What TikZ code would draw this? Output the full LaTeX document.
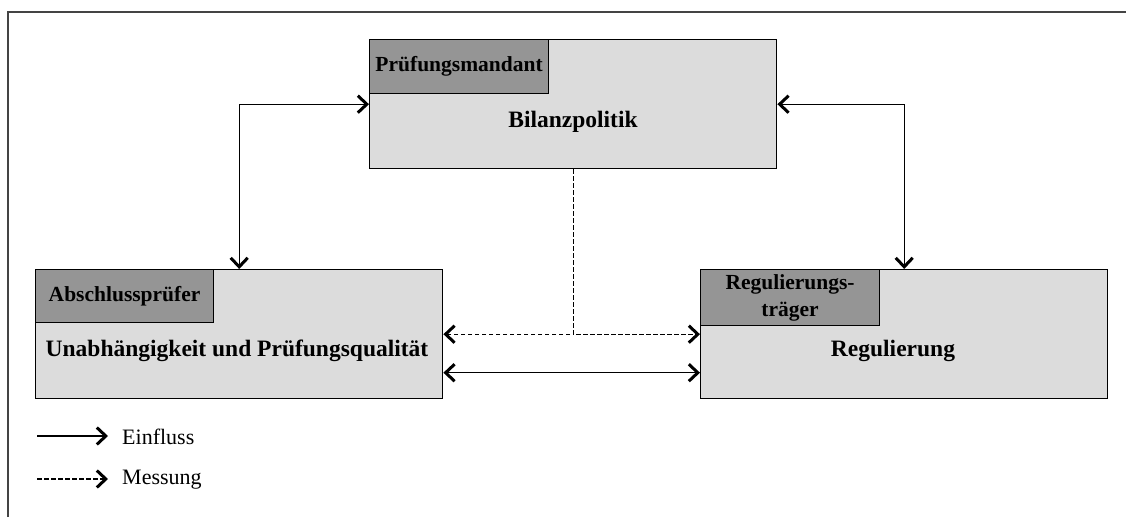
\documentclass[tikz,border=0pt]{standalone}
\usepackage{fontspec}
\setmainfont{Liberation Serif}
\usetikzlibrary{arrows.meta}
\definecolor{boxfill}{HTML}{DCDCDC}
\definecolor{headfill}{HTML}{959595}
\definecolor{framecol}{HTML}{444444}
\begin{document}
\begin{tikzpicture}[x=1pt,y=-1pt,
  mainbox/.style={draw=black,line width=1.4pt,fill=boxfill,minimum width=407pt,minimum height=129pt,inner sep=0pt,anchor=north west},
  headbox/.style={draw=black,line width=1.2pt,fill=headfill,inner sep=0pt,anchor=north west,font=\bfseries\fontsize{21.5}{25}\selectfont,align=center},
  maintext/.style={font=\bfseries\fontsize{23.5}{27}\selectfont},
  legtext/.style={font=\fontsize{22}{25}\selectfont,anchor=west,inner sep=0pt},
  tip/.style={Straight Barb[length=9pt,width=17pt,line width=3pt]},
  conn/.style={line width=1.3pt,{Straight Barb[length=9pt,width=17pt,line width=3pt]}-{Straight Barb[length=9pt,width=17pt,line width=3pt]}},
  oneway/.style={line width=1.3pt,-{Straight Barb[length=9pt,width=17pt,line width=3pt]}},
  meas/.style={line width=1.3pt,dash pattern=on 4.5pt off 2.5pt,-{Straight Barb[length=9pt,width=17pt,line width=3pt]}}
]
\useasboundingbox (0,0) rectangle (1126,517);
% outer frame (top and left edges only)
\draw[framecol,line width=1.3pt] (8,517) -- (8,12) -- (1126,12);

% boxes
\node[mainbox] (tb) at (369,39) {};
\node[mainbox] (lb) at (35,269) {};
\node[mainbox] (rb) at (700,269) {};

% headers
\node[headbox,minimum width=179pt,minimum height=54pt] (th) at (369,39) {Prüfungsmandant};
\node[headbox,minimum width=178pt,minimum height=53pt] (lh) at (35,269) {Abschlussprüfer};
\node[headbox,minimum width=179pt,minimum height=56pt] (rh) at (700,269) {Regulierungs-\\[2pt]träger};

% main texts
\node[maintext] (tt) at (573,122) {Bilanzpolitik};
\node[maintext] (lt) at (237,351) {Unabhängigkeit und Prüfungsqualität};
\node[maintext] (rt) at (893,351) {Regulierung};

% connectors
\draw[conn] (tb.west) -| (lb.north);
\draw[conn] (tb.east) -| (rb.north);
\draw[meas] (tb.south) |- (lb.east);
\draw[meas] (tb.south) |- (rb.west);
\draw[conn] ([yshift=-38.5pt]lb.east) -- ([yshift=-38.5pt]rb.west);

% legend
\coordinate (l1a) at (37,436);
\coordinate (l1b) at (108,436);
\coordinate (l2a) at (37,479);
\coordinate (l2b) at (108,479);
\draw[oneway] (l1a) -- (l1b);
\draw[meas] (l2a) -- (l2b);
\node[legtext] (e1) at (122,437) {Einfluss};
\node[legtext] (e2) at (122,480) {Messung};
\end{tikzpicture}
\end{document}
